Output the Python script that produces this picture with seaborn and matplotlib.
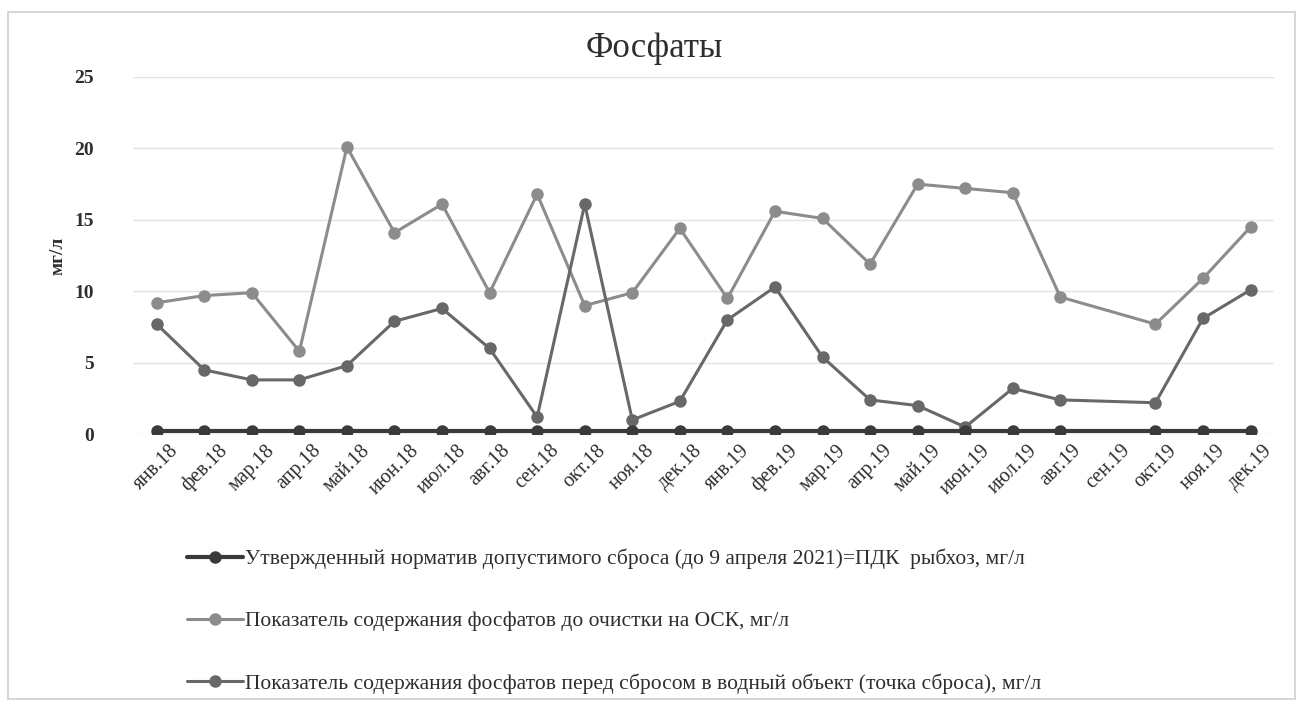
import numpy as np
import pandas as pd
import seaborn as sns
import matplotlib.pyplot as plt
from matplotlib.patches import Rectangle

months = ['янв.18', 'фев.18', 'мар.18', 'апр.18', 'май.18', 'июн.18', 'июл.18', 'авг.18',
          'сен.18', 'окт.18', 'ноя.18', 'дек.18', 'янв.19', 'фев.19', 'мар.19', 'апр.19',
          'май.19', 'июн.19', 'июл.19', 'авг.19', 'сен.19', 'окт.19', 'ноя.19', 'дек.19']

# сен.19 has no measurement, the lines jump over it
norm = [0.2, 0.2, 0.2, 0.2, 0.2, 0.2, 0.2, 0.2, 0.2, 0.2, 0.2, 0.2,
        0.2, 0.2, 0.2, 0.2, 0.2, 0.2, 0.2, 0.2, np.nan, 0.2, 0.2, 0.2]
before = [9.2, 9.7, 9.9, 5.8, 20.1, 14.1, 16.1, 9.9, 16.8, 9.0, 9.9, 14.4,
          9.5, 15.6, 15.1, 11.9, 17.5, 17.2, 16.9, 9.6, np.nan, 7.7, 10.9, 14.5]
after = [7.7, 4.5, 3.8, 3.8, 4.8, 7.9, 8.8, 6.0, 1.2, 16.1, 1.0, 2.3,
         8.0, 10.3, 5.4, 2.4, 2.0, 0.5, 3.2, 2.4, np.nan, 2.2, 8.1, 10.1]

labels = ['Утвержденный норматив допустимого сброса (до 9 апреля 2021)=ПДК  рыбхоз, мг/л',
          'Показатель содержания фосфатов до очистки на ОСК, мг/л',
          'Показатель содержания фосфатов перед сбросом в водный объект (точка сброса), мг/л']
colors = ['#3a3a3a', '#8c8c8c', '#686868']

sns.set_style('white')
plt.rcParams['font.family'] = ['Liberation Serif', 'DejaVu Serif']

fig = plt.figure(figsize=(13.03, 7.06), dpi=100)
ax = fig.add_axes([0.102, 0.385, 0.876, 0.506])

for vals, lab, col in zip([norm, before, after], labels, colors):
    df = pd.DataFrame({'x': np.arange(len(months)), 'y': vals}).dropna()
    lw = 3 if col == colors[0] else 2.2
    sns.lineplot(data=df, x='x', y='y', ax=ax, color=col, marker='o', markersize=9,
                 markeredgewidth=0, linewidth=lw, label=lab, zorder=3 if col == colors[0] else 2)

ax.set_xlim(-0.5, len(months) - 0.5)
ax.set_ylim(0, 25)
ax.set_yticks([0, 5, 10, 15, 20, 25])
ax.yaxis.grid(True, color='#e3e3e3', linewidth=1)
ax.xaxis.grid(False)
for s in ax.spines.values():
    s.set_visible(False)

ax.set_xticks(np.arange(len(months)))
ax.set_xticklabels(months, rotation=45, ha='center', va='top', fontsize=14.5, color='#2e2e2e')
ax.tick_params(axis='x', length=0, pad=5)
ax.tick_params(axis='y', length=0, pad=28, labelsize=14, labelcolor='#2e2e2e')
for t in ax.get_yticklabels():
    t.set_fontweight('bold')

ax.set_xlabel('')
ax.set_ylabel('мг/л', fontsize=14, fontweight='bold', color='#2e2e2e', labelpad=6)
fig.text(0.502, 0.932, 'Фосфаты', fontsize=25, color='#2e2e2e', ha='center', va='center')

ax.get_legend().remove()
handles, labs = ax.get_legend_handles_labels()
fig.legend(handles, labs, loc='upper left', bbox_to_anchor=(0.129, 0.25), frameon=False,
           fontsize=15.5, labelspacing=1.95, handlelength=2.6, handletextpad=0.05,
           labelcolor='#2e2e2e')

fig.patches.append(Rectangle((0.006, 0.01), 0.988, 0.973, transform=fig.transFigure,
                             fill=False, edgecolor='#cfcfcf', linewidth=1.2))

fig.savefig('out.png', dpi=100)
